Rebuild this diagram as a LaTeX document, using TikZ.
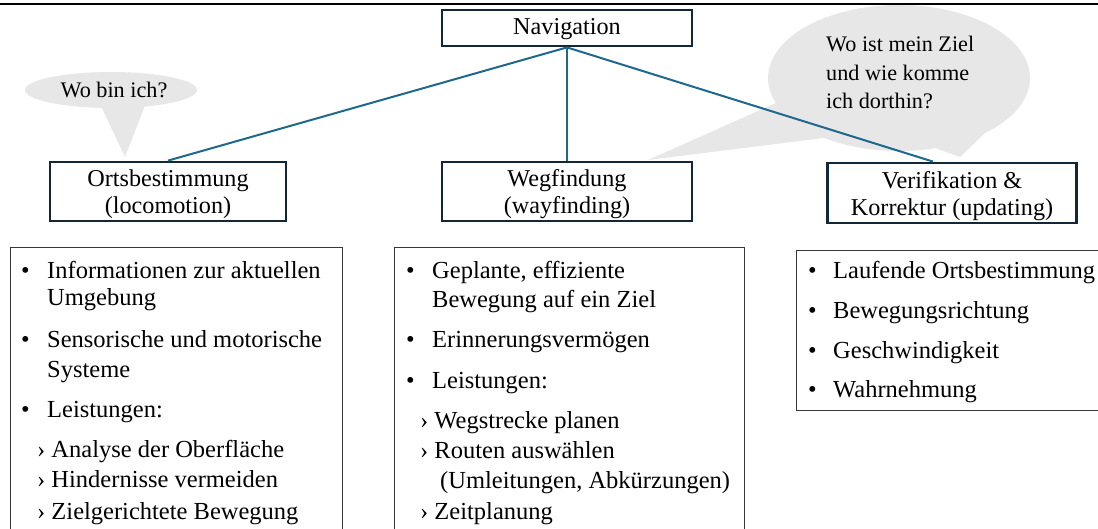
\documentclass[tikz,border=0pt]{standalone}
\usepackage{fontspec}
\setmainfont{Liberation Serif}
\usetikzlibrary{calc}
\definecolor{navyline}{RGB}{18,40,56}
\definecolor{linkblue}{RGB}{30,104,140}
\definecolor{bubblegray}{RGB}{231,231,231}
\definecolor{listframe}{RGB}{55,55,55}
\tikzset{
  topic/.style={draw=navyline,line width=2.8pt,fill=white,align=center,inner sep=0pt,
    font=\fontsize{24.2}{27}\selectfont},
  link/.style={draw=linkblue,line width=2pt},
  bubble/.style={fill=bubblegray},
  think/.style={inner sep=0pt,align=left,font=\fontsize{22.2}{28.5}\selectfont},
  listbox/.style={draw=listframe,line width=1.2pt,fill=white,inner sep=0pt,anchor=north west},
  entry/.style={anchor=base west,inner sep=0pt,font=\fontsize{24.5}{26}\selectfont},
}
\begin{document}
\begin{tikzpicture}[x=1pt,y=-1pt]
  \useasboundingbox (0,0) rectangle (1098,528);
  \clip (0,0) rectangle (1098,528);
  \draw[line width=2pt] (0,4) -- (1098,4);
  % speech bubbles
  \fill[bubble] (100,104) -- (125,157) -- (146,103) -- cycle;
  \fill[bubble] (111,90) ellipse [x radius=86, y radius=18];
  \fill[bubble] (776,103) -- (648,160) -- (824,138) -- cycle;
  \fill[bubble] (935,148) -- (960,157) -- (985,133) -- cycle;
  \fill[bubble] (899,78) ellipse [x radius=131, y radius=73];
  \node[think] (wobin) at (114,90) {Wo bin ich?};
  \node[think,anchor=north west] (ziel) at (826,36) {Wo ist mein Ziel\\und wie komme\\ich dorthin?};
  % topics
  \node[topic,minimum width=250pt,minimum height=36pt] (nav) at (567,28) {\rule{0pt}{19pt}Navigation};
  \node[topic,minimum width=236pt,minimum height=59pt] (orts) at (168,191.5) {\rule{0pt}{23pt}Ortsbestimmung\\(locomotion)};
  \node[topic,minimum width=250pt,minimum height=59pt] (weg) at (567,191.5) {\rule{0pt}{23pt}Wegfindung\\(wayfinding)};
  \node[topic,minimum width=249pt,minimum height=60pt] (veri) at (952,193) {\rule{0pt}{23pt}Verifikation \&\\Korrektur (updating)};
  \coordinate (verihook) at ($(veri.north)+(-19,0)$);
  \draw[link] (nav.south) -- (orts.north);
  \draw[link] (nav.south) -- (weg.north);
  \draw[link] (nav.south) -- (verihook);
  % lists
  \node[listbox,minimum width=332pt,minimum height=300pt] (ortsliste) at (10,247) {};
  \node[listbox,minimum width=350pt,minimum height=300pt] (wegliste) at (394,247) {};
  \node[listbox,minimum width=330pt,minimum height=160pt] (veriliste) at (796,250) {};
  \foreach \y in {278,347,417} \node[entry] (ortsdot\y) at (21,\y) {•};
  \foreach \t/\y [count=\i] in {Informationen zur aktuellen/278,Umgebung/305,
      Sensorische und motorische/347,Systeme/377,Leistungen:/417}
    \node[entry] (orts\i) at (47,\y) {\t};
  \foreach \t/\y [count=\i] in {Analyse der Oberfläche/457,Hindernisse vermeiden/487,
      Zielgerichtete Bewegung/519}
    \node[entry] (ortssub\i) at (37,\y) {› \t};
  \foreach \y in {278,347,388} \node[entry] (wegdot\y) at (406,\y) {•};
  \foreach \t/\y [count=\i] in {{Geplante, effiziente}/278,Bewegung auf ein Ziel/307,
      Erinnerungsvermögen/347,Leistungen:/388}
    \node[entry] (weg\i) at (432,\y) {\t};
  \foreach \t/\y [count=\i] in {Wegstrecke planen/428,Routen auswählen/458,Zeitplanung/519}
    \node[entry] (wegsub\i) at (420,\y) {› \t};
  \node[entry] (wegsub4) at (440,488) {(Umleitungen, Abkürzungen)};
  \foreach \t/\y [count=\i] in {Laufende Ortsbestimmung/278,Bewegungsrichtung/318,
      Geschwindigkeit/358,Wahrnehmung/397}
    {\node[entry] (veridot\i) at (808,\y) {•};
     \node[entry] (veri\i) at (833,\y) {\t};}
\end{tikzpicture}
\end{document}
